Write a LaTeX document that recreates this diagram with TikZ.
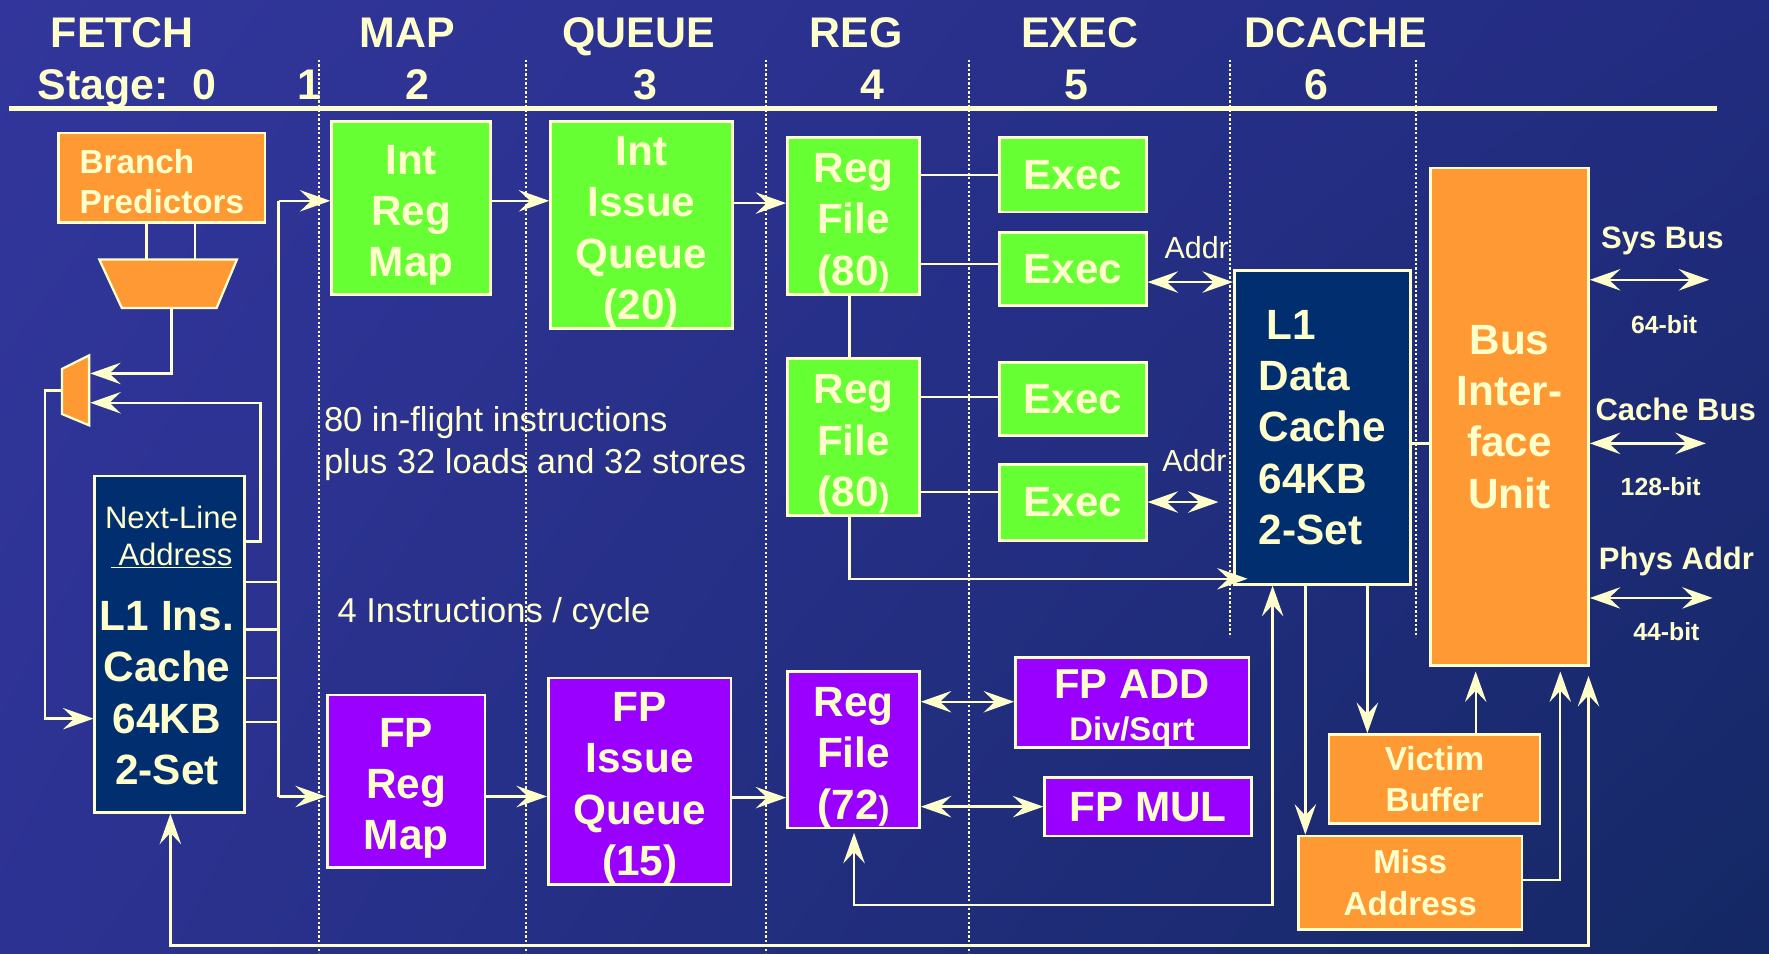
\documentclass[tikz,border=0pt]{standalone}
\usepackage{fontspec}
\setmainfont{Liberation Sans}
\usetikzlibrary{arrows.meta,shadings}

\definecolor{cream}{HTML}{FFFFCC}
\definecolor{grn}{HTML}{66FF33}
\definecolor{org}{HTML}{FF9933}
\definecolor{pur}{HTML}{9900FF}
\definecolor{navy}{HTML}{002E6E}
\definecolor{bgUL}{RGB}{50,54,156}
\definecolor{bgUR}{RGB}{34,44,128}
\definecolor{bgLL}{RGB}{44,50,146}
\definecolor{bgLR}{RGB}{20,40,100}

\newcommand\bigbf{\bfseries\fontsize{37.5}{45.5}\selectfont}
\newcommand\topgap[1]{\rule{0pt}{#1pt}}
\newcommand\smallparen{{\fontsize{29}{29}\selectfont)}}

% box from corner (x1,y1) to (x2,y2): name, x1, y1, x2, y2, style, text
\newcommand\mkbox[7]{%
  \pgfmathsetmacro\boxW{#4-#2}%
  \pgfmathsetmacro\boxH{#5-#3}%
  \node[#6, minimum width=\boxW pt, minimum height=\boxH pt] (#1)
    at ({(#2+#4)/2},{(#3+#5)/2}) {#7};}

\begin{document}
\begin{tikzpicture}[x=1pt,y=-1pt,
  >={Stealth[length=27pt,width=19pt,inset=10pt]},
  wire/.style={draw=cream, line width=2.1pt},
  dots/.style={draw=cream, line width=2pt, dash pattern=on 2pt off 2pt},
  blk/.style={draw=cream, line width=2.4pt, inner sep=0pt, text=cream,
              align=center, font=\bigbf},
  gblk/.style={blk, fill=grn},
  oblk/.style={blk, fill=org},
  pblk/.style={blk, fill=pur},
  nblk/.style={blk, fill=navy},
  hdr/.style={text=cream, inner sep=0pt, anchor=base,
              font=\bfseries\fontsize{38}{38}\selectfont},
  note/.style={text=cream, inner sep=0pt, anchor=north west, align=left,
               font=\fontsize{30.6}{37}\selectfont},
  side/.style={text=cream, inner sep=0pt, anchor=base west,
               font=\bfseries\fontsize{27.5}{27.5}\selectfont},
  bits/.style={text=cream, inner sep=0pt, anchor=base,
               font=\bfseries\fontsize{22}{22}\selectfont},
  addr/.style={text=cream, inner sep=0pt, anchor=base west,
               font=\fontsize{27}{27}\selectfont}]

% background
\shade[upper left=bgUL, upper right=bgUR, lower left=bgLL, lower right=bgLR]
  (0,0) rectangle (1568,845);
\useasboundingbox (0,0) rectangle (1568,845);

% pipeline stage headings
\node[hdr, anchor=base west] (hFetch) at (45,42) {FETCH};
\node[hdr] (hMap) at (361,42) {MAP};
\node[hdr] (hQueue) at (566,42) {QUEUE};
\node[hdr] (hReg) at (759,42) {REG};
\node[hdr] (hExec) at (957,42) {EXEC};
\node[hdr] (hDcache) at (1184,42) {DCACHE};
\node[hdr, anchor=base west] (hStage) at (33,88) {Stage:\ \ 0};
\node[hdr] (s1) at (274,88) {1};
\node[hdr] (s2) at (370,88) {2};
\node[hdr] (s3) at (572,88) {3};
\node[hdr] (s4) at (773,88) {4};
\node[hdr] (s5) at (954,88) {5};
\node[hdr] (s6) at (1167,88) {6};
\draw[cream, line width=4pt] (8,96) -- (1522,96);

% stage boundaries
\foreach \xx in {283,466,679,859} \draw[dots] (\xx,53) -- (\xx,845);
\foreach \xx in {1090,1255} \draw[dots] (\xx,53) -- (\xx,565);

% fetch
\mkbox{bp}{52}{118}{235}{197}{oblk, align=left, font=\bfseries\fontsize{29.5}{36}\selectfont}{\topgap{28}Branch\\Predictors}
\mkbox{l1i}{84}{422}{217}{720}{nblk}{}
\node[text=cream, inner sep=0pt, anchor=north, align=center,
      font=\fontsize{27.5}{33}\selectfont] (l1iTag) at (152,448)
      {Next-Line\\\underline{\hspace{7pt}Address}};
\node[text=cream, inner sep=0pt, anchor=north, align=center, font=\bigbf]
      (l1iName) at (148,533) {L1 Ins.\\Cache\\64KB\\2-Set};

\filldraw[fill=org, draw=cream, line width=2pt]
  (88,230) -- (210,230) -- (192,273) -- (108,273) -- cycle;
\coordinate (bigmuxN1) at (130,230);
\coordinate (bigmuxN2) at (173,230);
\coordinate (bigmuxS) at (152,273);
\filldraw[fill=org, draw=cream, line width=2pt]
  (55,327) -- (79,315) -- (79,377) -- (55,367) -- cycle;
\coordinate (smuxW) at (55,346);
\coordinate (smuxE) at (80,346);

% map / queue / reg / exec: integer side
\mkbox{irm}{294}{108}{435}{261}{gblk}{\topgap{38.5}Int\\Reg\\Map}
\mkbox{iiq}{488}{108}{649}{291}{gblk}{\topgap{38.5}Int\\Issue\\Queue\\(20)}
\mkbox{rfa}{698}{122}{815}{261}{gblk}{\topgap{39.5}Reg\\File\\(80\smallparen}
\mkbox{rfb}{698}{318}{815}{457}{gblk}{\topgap{39.5}Reg\\File\\(80\smallparen}
\mkbox{ex1}{886}{122}{1016}{188}{gblk}{Exec}
\mkbox{ex2}{886}{206}{1016}{271}{gblk}{Exec}
\mkbox{ex3}{886}{321}{1016}{386}{gblk}{Exec}
\mkbox{ex4}{886}{412}{1016}{479}{gblk}{Exec}

% floating point side
\mkbox{fprm}{290}{616}{430}{769}{pblk}{\topgap{38.5}FP\\Reg\\Map}
\mkbox{fpiq}{486}{601}{648}{784}{pblk}{\topgap{38.5}FP\\Issue\\Queue\\(15)}
\mkbox{fprf}{698}{595}{815}{734}{pblk}{\topgap{40}Reg\\File\\(72\smallparen}
\mkbox{fpadd}{900}{583}{1107}{662}{pblk, font=\bfseries\fontsize{37}{37}\selectfont}{\topgap{36.5}FP ADD\\{\fontsize{29}{29}\selectfont Div/Sqrt}}
\mkbox{fpmul}{926}{689}{1109}{741}{pblk}{FP MUL}

% data cache and bus side
\mkbox{l1d}{1094}{240}{1250}{518}{nblk, align=left}{\hspace{7pt}L1\\Data\\Cache\\64KB\\2-Set}
\mkbox{biu}{1268}{149}{1408}{590}{oblk}{Bus\\Inter-\\face\\Unit}
\mkbox{vb}{1178}{651}{1365}{730}{oblk, font=\bfseries\fontsize{29.5}{36}\selectfont}{Victim\\Buffer}
\mkbox{ma}{1151}{741}{1349}{824}{oblk, font=\bfseries\fontsize{29.5}{37}\selectfont}{Miss\\Address}

% notes
\node[note] (inflight) at (287,360) {80 in-flight instructions\\plus 32 loads and 32 stores};
\node[note] (perCycle) at (299,529) {4 Instructions / cycle};
\node[addr] (addrA) at (1032,229) {Addr};
\node[addr] (addrB) at (1030,418) {Addr};

% fetch wiring
\draw[wire] (bp.south -| bigmuxN1) -- (bigmuxN1);
\draw[wire] (bp.south -| bigmuxN2) -- (bigmuxN2);
\draw[wire,->] (bigmuxS) -- (152,331) -- (smuxE |- 0,331);
\draw[wire,->] (l1i.east |- 0,480) -- (231,480) -- (231,357) -- (smuxE |- 0,357);
\draw[wire,->] (smuxW) -- (40,346) -- (40,637) -- (l1i.west |- 0,637);

\coordinate (busTop) at (247,178);
\coordinate (busBot) at (247,706);
\draw[wire] (busTop) -- (busBot);
\foreach \yy in {516,558,601,640} \draw[wire] (l1i.east |- 0,\yy) -- (busTop |- 0,\yy);
\draw[wire,->] (busTop) -- (irm.west |- busTop);
\draw[wire,->] (busBot) -- (fprm.west |- busBot);

% integer pipeline wiring
\draw[wire,->] (irm.east |- 0,178) -- (iiq.west |- 0,178);
\draw[wire,->] (iiq.east |- 0,180) -- (rfa.west |- 0,180);
\draw[wire] (rfa.south -| 753,0) -- (rfb.north -| 753,0);
\draw[wire] (rfa.east |- 0,155) -- (ex1.west |- 0,155);
\draw[wire] (rfa.east |- 0,234) -- (ex2.west |- 0,234);
\draw[wire] (rfb.east |- 0,352) -- (ex3.west |- 0,352);
\draw[wire] (rfb.east |- 0,436) -- (ex4.west |- 0,436);
\coordinate (addrEnd) at (1080,445);
\draw[wire,<->] (ex2.east |- 0,250) -- (l1d.west |- 0,250);
\draw[wire,<->] (ex4.east |- 0,445) -- (addrEnd);
\draw[wire,->,shorten >=-13pt] (rfb.south -| 753,0) -- (753,513) -- (l1d.west |- 0,513);

% floating point wiring
\draw[wire,->] (fprm.east |- 0,706) -- (fpiq.west |- 0,706);
\draw[wire,->] (fpiq.east |- 0,707) -- (fprf.west |- 0,707);
\draw[wire,<->] (fprf.east |- 0,622) -- (fpadd.west |- 0,622);
\draw[wire,<->] (fprf.east |- 0,715) -- (fpmul.west |- 0,715);

% memory side wiring
\draw[wire] (l1d.east |- 0,393) -- (biu.west |- 0,393);
\draw[wire,<->,shorten >=3pt] (l1d.south -| 1128,0) -- (1128,802) -- (757,802) -- (fprf.south -| 757,0);
\draw[wire,->] (l1d.south -| 1157,0) -- (ma.north -| 1157,0);
\draw[wire,->] (l1d.south -| 1212,0) -- (vb.north -| 1212,0);
\draw[wire,->,shorten >=4pt] (vb.north -| 1308,0) -- (biu.south -| 1308,0);
\draw[wire,->,shorten >=4pt] (ma.east |- 0,780) -- (1383,780) -- (biu.south -| 1383,0);
\draw[wire,<->,shorten >=8pt] (l1i.south -| 151,0) -- (151,838) -- (1408,838) -- (biu.south -| 1408,0);

% external buses
\coordinate (sysEnd) at (1515,248);
\coordinate (cacheEnd) at (1512,393);
\coordinate (physEnd) at (1518,530);
\draw[wire,<->] (biu.east |- sysEnd) -- (sysEnd);
\draw[wire,<->] (biu.east |- cacheEnd) -- (cacheEnd);
\draw[wire,<->] (biu.east |- physEnd) -- (physEnd);
\node[side] (sysBus) at (1419,220) {Sys Bus};
\node[side] (cacheBus) at (1414,373) {Cache Bus};
\node[side] (physAddr) at (1417,505) {Phys Addr};
\node[bits] (sysW) at (1475,296) {64-bit};
\node[bits] (cacheW) at (1472,439) {128-bit};
\node[bits] (physW) at (1477,568) {44-bit};

\end{tikzpicture}
\end{document}
